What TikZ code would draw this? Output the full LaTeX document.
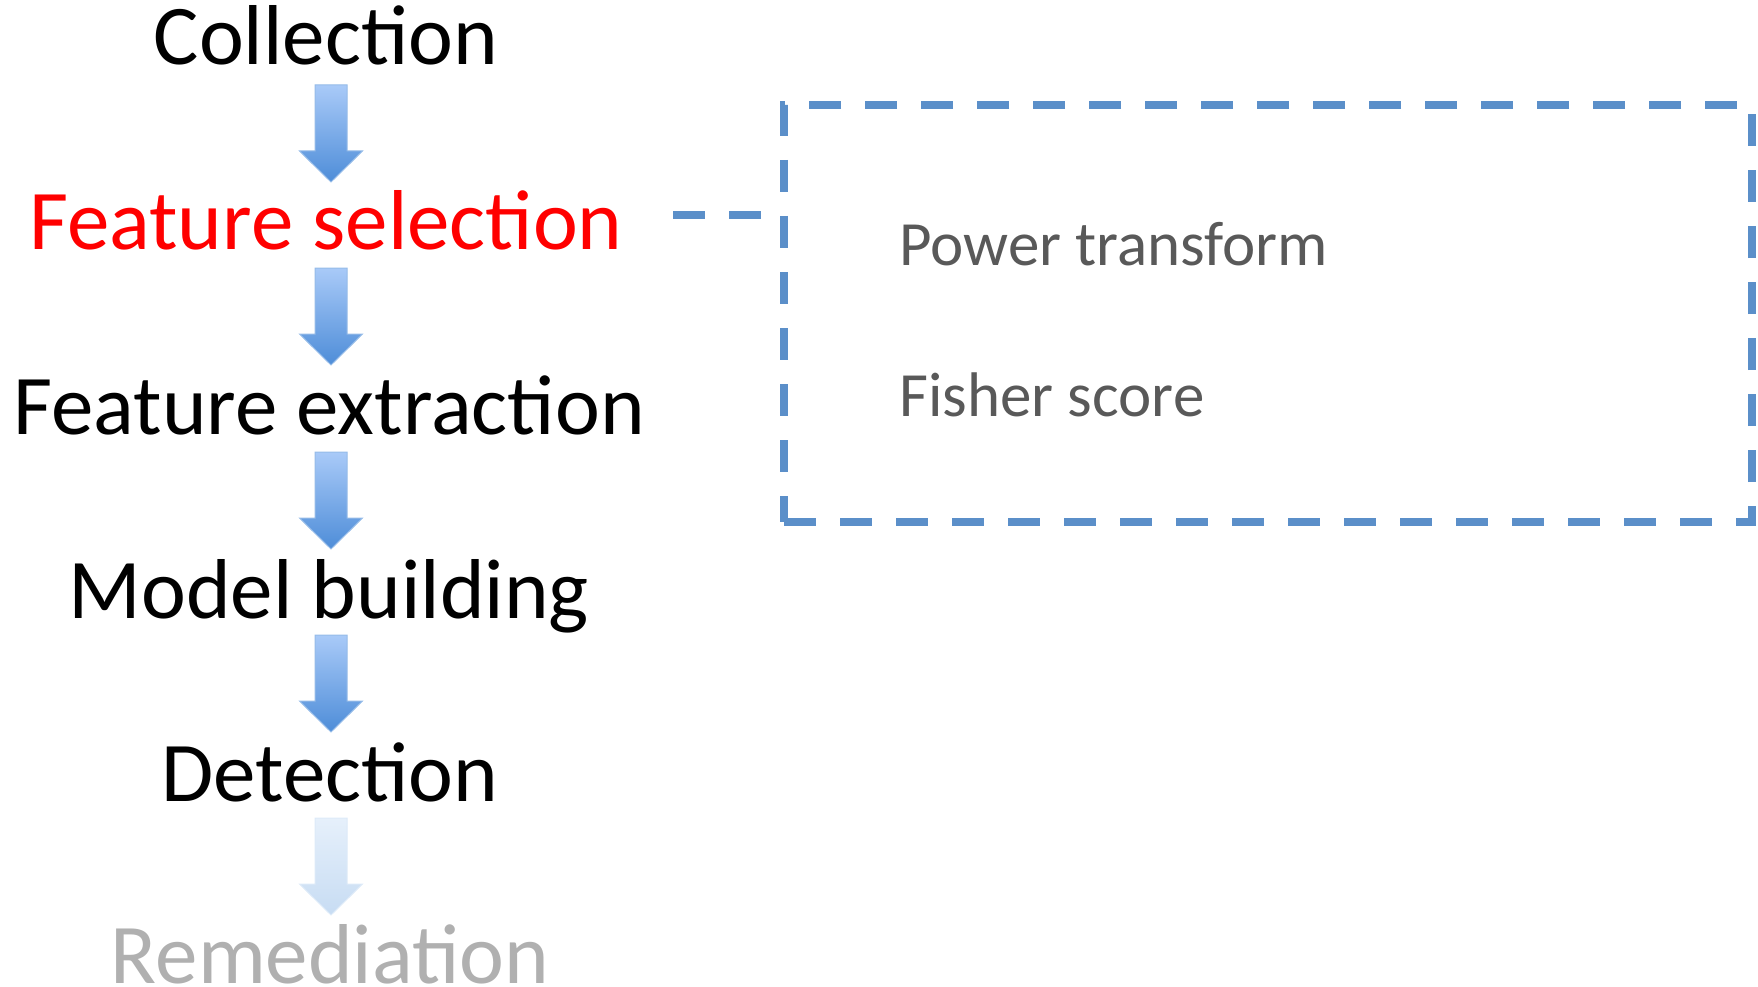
\documentclass[tikz,border=0pt]{standalone}
\usepackage{fontspec}
\setmainfont{Carlito}
\definecolor{boxblue}{HTML}{5B8FC9}
\definecolor{optgray}{HTML}{595959}
\definecolor{fadegray}{HTML}{B0B0B0}
\definecolor{arrowtop}{HTML}{A9CAF8}
\definecolor{arrowbot}{HTML}{4E8DD8}
\definecolor{fadetop}{HTML}{E6F0FB}
\definecolor{fadebot}{HTML}{C7DCF3}
\begin{document}
\begin{tikzpicture}[x=1pt,y=-1pt,
  stage/.style={anchor=base, inner sep=0pt, font=\fontsize{85}{100}\selectfont},
  option/.style={anchor=base west, inner sep=0pt, text=optgray, font=\fontsize{63}{75}\selectfont},
  dashline/.style={draw=boxblue, line width=8pt, dash pattern=on 32pt off 24pt},
  pics/downarrow/.style args={#1/#2}{code={
    \path[top color=#1, bottom color=#2, draw=#2!60!white, line width=1pt]
      (-16,0) -- (16,0) -- (16,66) -- (31.5,66) -- (0,97) -- (-31.5,66) -- (-16,66) -- cycle;}}
]
\useasboundingbox (0,0) rectangle (1758,987);

% pipeline stages
\node[stage] (coll) at (326,65) {Collection};
\node[stage, text=red] (fsel) at (326,249) {Feature selection};
\node[stage] (fext) at (329,434) {Feature extraction};
\node[stage] (model) at (329,618) {Model building};
\node[stage] (detect) at (330,801) {Detection};
\node[stage, text=fadegray] (remed) at (330,983) {Remediation};

% block arrows between the stages
\pic at (331,85) {downarrow={arrowtop/arrowbot}};
\pic at (331,268) {downarrow={arrowtop/arrowbot}};
\pic at (331,452) {downarrow={arrowtop/arrowbot}};
\pic at (331,635) {downarrow={arrowtop/arrowbot}};
\pic at (331,818) {downarrow={fadetop/fadebot}};

% detail box for feature selection
\node[dashline, minimum width=968pt, minimum height=417pt, inner sep=0pt] (box) at (1268,313.5) {};
\node[option] (power) at (899,265) {Power transform};
\node[option] (fisher) at (899,416) {Fisher score};

\coordinate (lead) at (673,215);
\draw[dashline] (lead) -- (lead -| box.west);
\end{tikzpicture}
\end{document}
